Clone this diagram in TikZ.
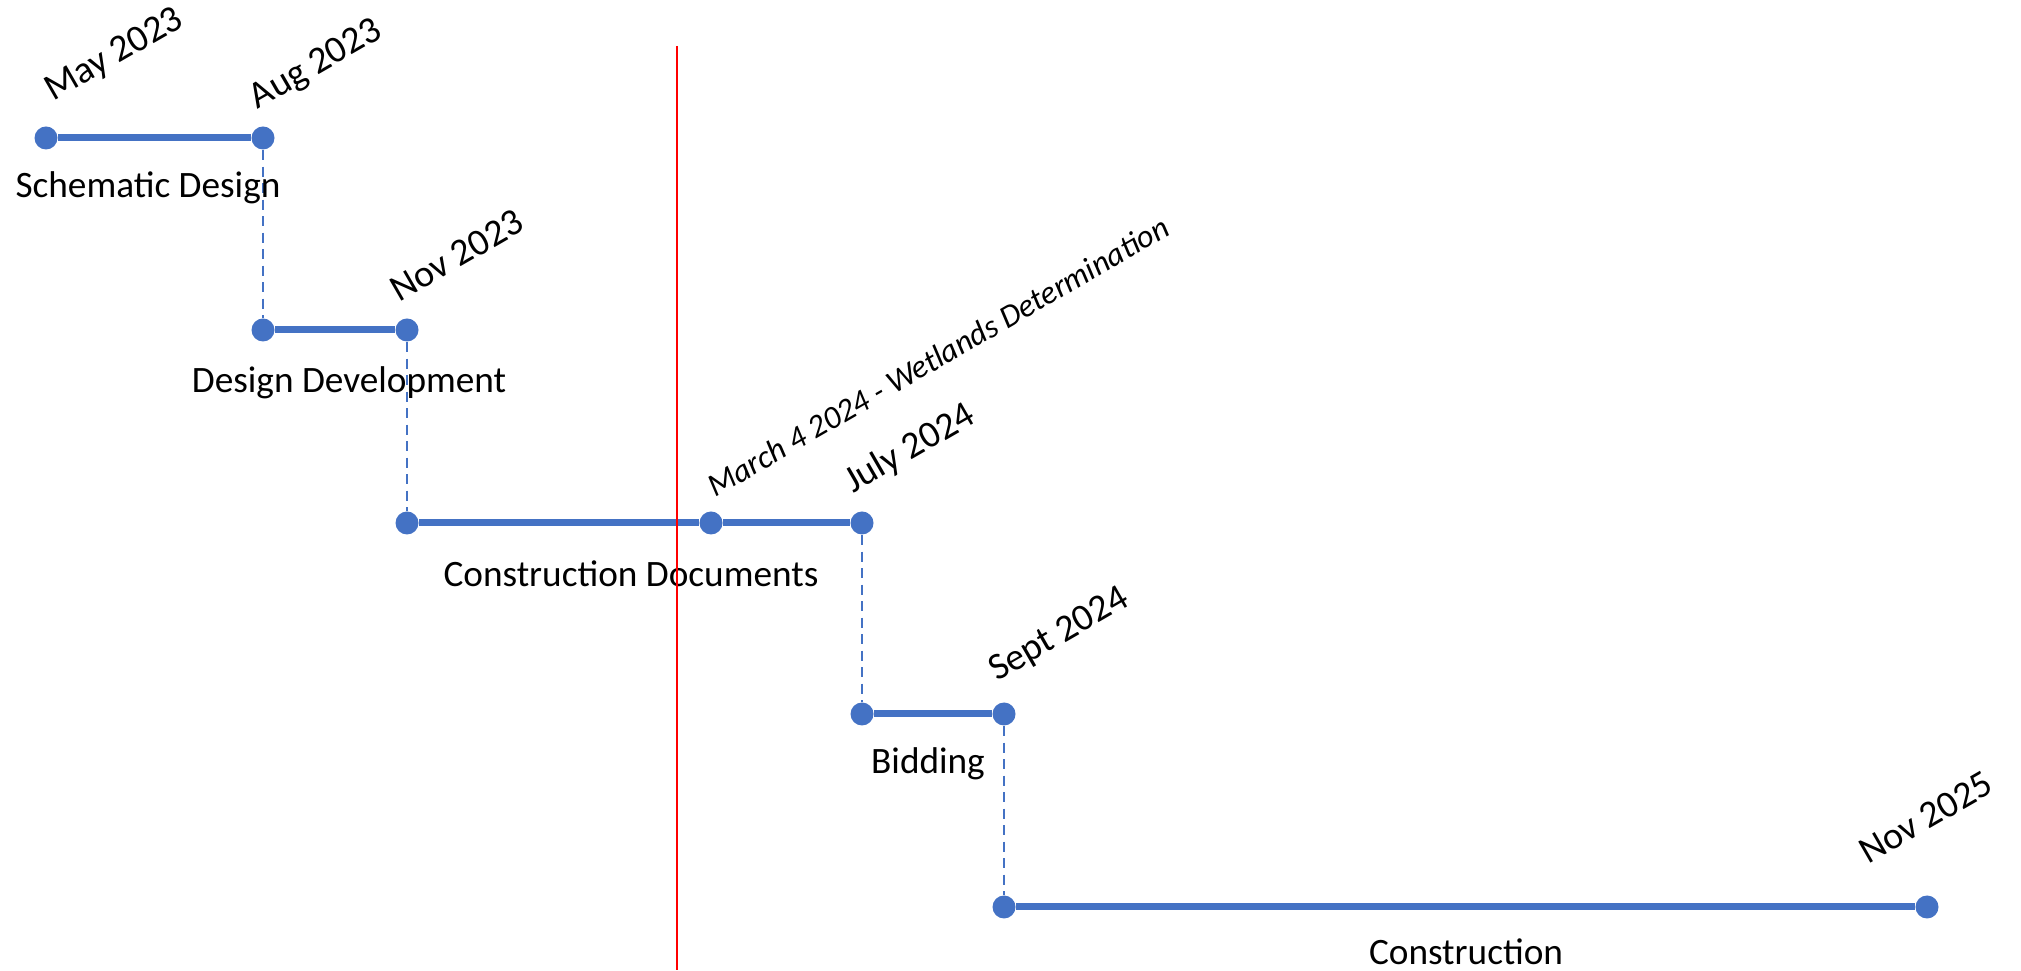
\documentclass[tikz,border=0pt]{standalone}
\usepackage{fontspec}
\setmainfont{Carlito}
\usetikzlibrary{positioning,calc}
\definecolor{tlblue}{RGB}{68,114,196}
\definecolor{tlred}{RGB}{255,0,0}

\begin{document}
\begin{tikzpicture}[
  dot/.style={circle,fill=tlblue,inner sep=0pt,minimum size=0.23cm},
  seg/.style={line width=0.07cm,tlblue},
  link/.style={line width=0.025cm,tlblue,dash pattern=on 0.1cm off 0.065cm},
  phase/.style={font=\fontsize{10.6}{12}\selectfont,inner sep=0pt},
  datelbl/.style={font=\fontsize{10.8}{12}\selectfont,rotate=30,anchor=south west,inner sep=0pt}]
  \useasboundingbox (0,0) rectangle (20.21,9.70);
  % milestones
  \node[dot] (sds) at (0.46,8.32) {};
  \node[dot] (sde) at (2.63,8.32) {};
  \node[dot] (dds) at (2.63,6.40) {};
  \node[dot] (dde) at (4.07,6.40) {};
  \node[dot] (cds) at (4.07,4.47) {};
  \node[dot] (wet) at (7.11,4.47) {};
  \node[dot] (cde) at (8.62,4.47) {};
  \node[dot] (bds) at (8.62,2.56) {};
  \node[dot] (bde) at (10.04,2.56) {};
  \node[dot] (cns) at (10.04,0.63) {};
  \node[dot] (cne) at (19.27,0.63) {};
  % phases
  \draw[seg] (sds) -- (sde);
  \draw[seg] (dds) -- (dde);
  \draw[seg] (cds) -- (wet);
  \draw[seg] (wet) -- (cde);
  \draw[seg] (bds) -- (bde);
  \draw[seg] (cns) -- (cne);
  \draw[link] (sde) -- (dds);
  \draw[link] (dde) -- (cds);
  \draw[link] (cde) -- (bds);
  \draw[link] (bde) -- (cns);
  \node[phase] (sdlab) at (1.48,7.82) {Schematic Design};
  \node[phase] (ddlab) at (3.49,5.87) {Design Development};
  \node[phase] (cdlab) at (6.31,3.96) {Construction Documents};
  \node[phase] (bdlab) at (9.28,2.06) {Bidding};
  \node[phase] (cnlab) at (14.66,0.18) {Construction};
  % dates
  \node[datelbl] (d1) at ($(sds)+(0.10,0.30)$) {May 2023};
  \node[datelbl] (d2) at ($(sde)+(-0.02,0.22)$) {Aug 2023};
  \node[datelbl] (d3) at ($(dde)+(-0.08,0.26)$) {Nov 2023};
  \node[datelbl,font=\fontsize{9.2}{11}\selectfont\itshape] (d4) at ($(wet)+(0.04,0.24)$) {March 4 2024 - Wetlands Determination};
  \node[datelbl] (d5) at ($(cde)+(-0.06,0.23)$) {July 2024};
  \node[datelbl] (d6) at ($(bde)+(-0.04,0.26)$) {Sept 2024};
  \node[datelbl] (d7) at ($(cne)+(-0.59,0.41)$) {Nov 2025};
  % today
  \coordinate (nowtop) at (6.77,9.24);
  \coordinate (nowbot) at (6.77,0);
  \draw[tlred,line width=0.012cm] (nowtop) -- (nowbot);
\end{tikzpicture}
\end{document}
